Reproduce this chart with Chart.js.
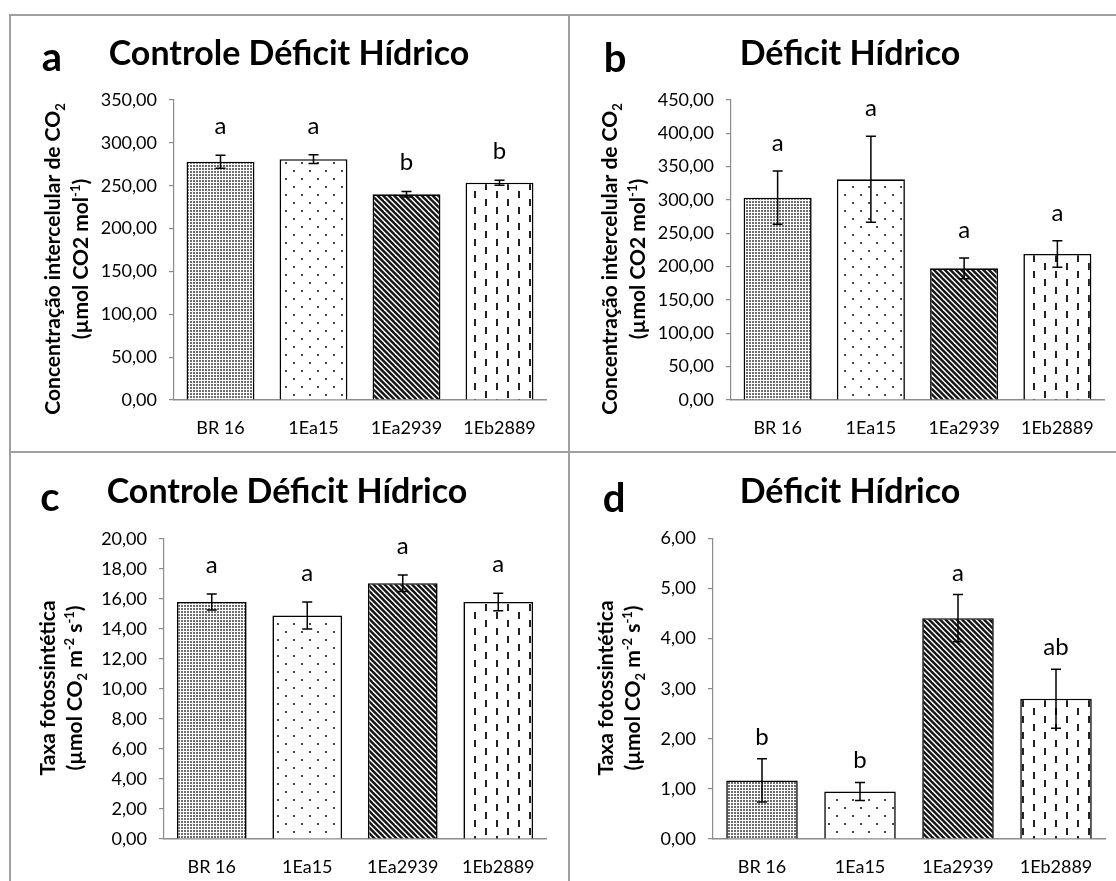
<!DOCTYPE html>
<html>
<head>
<meta charset="utf-8">
<title>Trocas gasosas – déficit hídrico</title>
<script src="https://cdn.jsdelivr.net/npm/chart.js@4.4.1/dist/chart.umd.min.js"></script>
<style>
  html, body { margin: 0; padding: 0; background: #fff; }
  body { width: 1116px; height: 881px; position: relative; overflow: hidden; }
  .cell { position: absolute; }
  .cell canvas { display: block; }
  .rule { position: absolute; background: #a0a0a0; z-index: 2; }
</style>
</head>
<body>
<div class="cell" style="left:10px;top:15px;width:559px;height:437px"><canvas id="panelA" width="559" height="437"></canvas></div>
<div class="cell" style="left:569px;top:15px;width:547px;height:437px"><canvas id="panelB" width="547" height="437"></canvas></div>
<div class="cell" style="left:10px;top:452px;width:559px;height:429px"><canvas id="panelC" width="559" height="429"></canvas></div>
<div class="cell" style="left:569px;top:452px;width:547px;height:429px"><canvas id="panelD" width="547" height="429"></canvas></div>

<div class="rule" style="left:9px;top:14px;width:1107px;height:2px"></div>
<div class="rule" style="left:9px;top:14px;width:2px;height:867px"></div>
<div class="rule" style="left:568px;top:14px;width:2px;height:867px"></div>
<div class="rule" style="left:9px;top:451px;width:1107px;height:2px"></div>

<script>
// ---- data ----
const categories = ['BR 16', '1Ea15', '1Ea2939', '1Eb2889'];

// intercellular CO2, control
const ciControl = [278, 281, 240, 253.5];
const ciControlErr = [7.5, 5, 3.3, 3];
const ciControlLetters = ['a', 'a', 'b', 'b'];
const ciControlTicks = [0, 50, 100, 150, 200, 250, 300, 350];

// intercellular CO2, water deficit
const ciDeficit = [303.5, 331, 197.5, 219];
const ciDeficitErr = [40, 64.5, 15.5, 20];
const ciDeficitLetters = ['a', 'a', 'a', 'a'];
const ciDeficitTicks = [0, 50, 100, 150, 200, 250, 300, 350, 400, 450];

// photosynthetic rate, control
const aControl = [15.8, 14.9, 17.05, 15.8];
const aControlErr = [0.53, 0.9, 0.55, 0.58];
const aControlLetters = ['a', 'a', 'a', 'a'];
const aControlTicks = [0, 2, 4, 6, 8, 10, 12, 14, 16, 18, 20];

// photosynthetic rate, water deficit
const aDeficit = [1.17, 0.95, 4.41, 2.8];
const aDeficitErr = [0.43, 0.18, 0.47, 0.59];
const aDeficitLetters = ['b', 'b', 'a', 'ab'];
const aDeficitTicks = [0, 1, 2, 3, 4, 5, 6];

// ---- styling ----
const FONT = 'Lato, "Open Sans", "DejaVu Sans", sans-serif';
const AXIS_GREY = '#8c8c8c';

function fmt(v) { return v.toFixed(2).replace('.', ','); }

function tile(w, h, paint) {
  const c = document.createElement('canvas');
  c.width = w; c.height = h;
  const g = c.getContext('2d');
  g.fillStyle = '#fff';
  g.fillRect(0, 0, w, h);
  paint(g, w, h);
  return c;
}

// fine dotted grid
const denseTile = tile(3, 3, g => { g.fillStyle = '#6e6e6e'; g.fillRect(0, 0, 2, 2); });
// sparse staggered dots
const sparseTile = tile(16, 16, g => {
  g.fillStyle = '#4a4a4a';
  g.fillRect(3, 3, 2, 2);
  g.fillRect(11, 11, 2, 2);
});
// dark downward diagonal stripes
const diagTile = tile(11, 11, g => {
  g.strokeStyle = '#151515';
  g.lineWidth = 2.4;
  for (let c = -16.5; c <= 16.5; c += 5.5) {
    g.beginPath();
    g.moveTo(c - 3, -3);
    g.lineTo(c + 14, 14);
    g.stroke();
  }
});
// staggered vertical dashes
const dashTile = tile(22, 16, g => {
  g.fillStyle = '#222';
  g.fillRect(2, 0, 2, 7);
  g.fillRect(13, 8, 2, 7);
});

function richLine(ctx, parts, x, cy, size) {
  ctx.save();
  ctx.translate(x, cy);
  ctx.rotate(-Math.PI / 2);
  const small = Math.round(size * 0.62);
  let total = 0;
  const widths = parts.map(p => {
    ctx.font = `bold ${p.s ? small : size}px ${FONT}`;
    const w = ctx.measureText(p.t).width;
    total += w;
    return w;
  });
  let cx = -total / 2;
  ctx.textAlign = 'left';
  ctx.textBaseline = 'alphabetic';
  parts.forEach((p, i) => {
    ctx.font = `bold ${p.s ? small : size}px ${FONT}`;
    const dy = p.s === 'sub' ? size * 0.22 : p.s === 'sup' ? -size * 0.36 : 0;
    ctx.fillText(p.t, cx, dy);
    cx += widths[i];
  });
  ctx.restore();
}

function panel(cfg) {
  const canvas = document.getElementById(cfg.id);
  const ctx = canvas.getContext('2d');
  const fills = [denseTile, sparseTile, diagTile, dashTile].map(t => ctx.createPattern(t, 'repeat'));

  const decorations = {
    id: 'decorations',
    afterDatasetsDraw(chart) {
      const c = chart.ctx;
      const y = chart.scales.y;
      const meta = chart.getDatasetMeta(0);
      c.save();
      c.strokeStyle = '#000';
      c.lineWidth = 1.5;
      c.fillStyle = '#000';
      c.font = `24px ${FONT}`;
      c.textAlign = 'center';
      c.textBaseline = 'alphabetic';
      meta.data.forEach((bar, i) => {
        const v = cfg.values[i], e = cfg.errors[i];
        const top = y.getPixelForValue(v + e);
        const bot = y.getPixelForValue(v - e);
        const x = bar.x;
        c.beginPath();
        c.moveTo(x, top); c.lineTo(x, bot);
        c.moveTo(x - 5, top); c.lineTo(x + 5, top);
        c.moveTo(x - 5, bot); c.lineTo(x + 5, bot);
        c.stroke();
        c.fillText(cfg.letters[i], x, top - cfg.letterGap);
      });
      c.restore();
    },
    afterDraw(chart) {
      const c = chart.ctx;
      c.save();
      c.fillStyle = '#000';
      c.textAlign = 'center';
      c.textBaseline = 'alphabetic';
      c.font = `bold 40px ${FONT}`;
      c.fillText(cfg.tag, cfg.tagX, cfg.tagY);
      c.font = `bold 34px ${FONT}`;
      c.fillText(cfg.title, cfg.titleX, cfg.titleY);
      cfg.axisTitle.forEach((parts, i) => richLine(c, parts, cfg.axisTitleX[i], cfg.axisTitleY, 21));
      c.restore();
    }
  };

  return new Chart(ctx, {
    type: 'bar',
    data: {
      labels: categories,
      datasets: [{
        data: cfg.values,
        backgroundColor: fills,
        borderColor: '#000',
        borderWidth: 1.6,
        barPercentage: 0.73,
        categoryPercentage: 1
      }]
    },
    options: {
      responsive: false,
      animation: false,
      events: [],
      layout: { padding: { left: 0, right: cfg.padRight, top: cfg.padTop, bottom: 0 } },
      plugins: { legend: { display: false }, tooltip: { enabled: false }, title: { display: false } },
      scales: {
        x: {
          grid: { display: false },
          border: { display: true, color: AXIS_GREY, width: 1.5 },
          ticks: { color: '#000', font: { family: FONT, size: 18 }, padding: 9, maxRotation: 0 },
          afterFit(s) { s.height = cfg.xHeight; }
        },
        y: {
          min: cfg.ticks[0],
          max: cfg.ticks[cfg.ticks.length - 1],
          afterBuildTicks(s) { s.ticks = cfg.ticks.map(v => ({ value: v })); },
          grid: { drawOnChartArea: false, drawTicks: true, tickLength: 5, tickColor: AXIS_GREY, lineWidth: 1.2 },
          border: { display: true, color: AXIS_GREY, width: 1.2 },
          ticks: { color: '#000', font: { family: FONT, size: 18 }, padding: 12, callback: v => fmt(v) },
          afterFit(s) { s.width = cfg.yWidth; }
        }
      }
    },
    plugins: [decorations]
  });
}

const ciTitle = [
  [{ t: 'Concentração intercelular de CO' }, { t: '2', s: 'sub' }],
  [{ t: '(µmol CO2 mol' }, { t: '-1', s: 'sup' }, { t: ')' }]
];
const aTitle = [
  [{ t: 'Taxa fotossintética' }],
  [{ t: '(µmol CO' }, { t: '2', s: 'sub' }, { t: ' m' }, { t: '-2', s: 'sup' }, { t: ' s' }, { t: '-1', s: 'sup' }, { t: ')' }]
];

panel({
  id: 'panelA', values: ciControl, errors: ciControlErr, letters: ciControlLetters, ticks: ciControlTicks,
  letterGap: 21, yWidth: 164, padRight: 23, padTop: 85, xHeight: 52,
  tag: 'a', tagX: 42, tagY: 56, title: 'Controle Déficit Hídrico', titleX: 279, titleY: 50,
  axisTitle: ciTitle, axisTitleX: [50, 78], axisTitleY: 244
});
panel({
  id: 'panelB', values: ciDeficit, errors: ciDeficitErr, letters: ciDeficitLetters, ticks: ciDeficitTicks,
  letterGap: 20, yWidth: 162, padRight: 12, padTop: 85, xHeight: 52,
  tag: 'b', tagX: 46, tagY: 57, title: 'Déficit Hídrico', titleX: 281, titleY: 50,
  axisTitle: ciTitle, axisTitleX: [48, 76], axisTitleY: 244
});
panel({
  id: 'panelC', values: aControl, errors: aControlErr, letters: aControlLetters, ticks: aControlTicks,
  letterGap: 21, yWidth: 154, padRight: 23, padTop: 87, xHeight: 42,
  tag: 'c', tagX: 40, tagY: 59, title: 'Controle Déficit Hídrico', titleX: 277, titleY: 51,
  axisTitle: aTitle, axisTitleX: [45, 72], axisTitleY: 236
});
panel({
  id: 'panelD', values: aDeficit, errors: aDeficitErr, letters: aDeficitLetters, ticks: aDeficitTicks,
  letterGap: 14, yWidth: 144, padRight: 11, padTop: 86.5, xHeight: 42,
  tag: 'd', tagX: 45, tagY: 60, title: 'Déficit Hídrico', titleX: 281, titleY: 51,
  axisTitle: aTitle, axisTitleX: [44, 71], axisTitleY: 236
});
</script>
</body>
</html>
